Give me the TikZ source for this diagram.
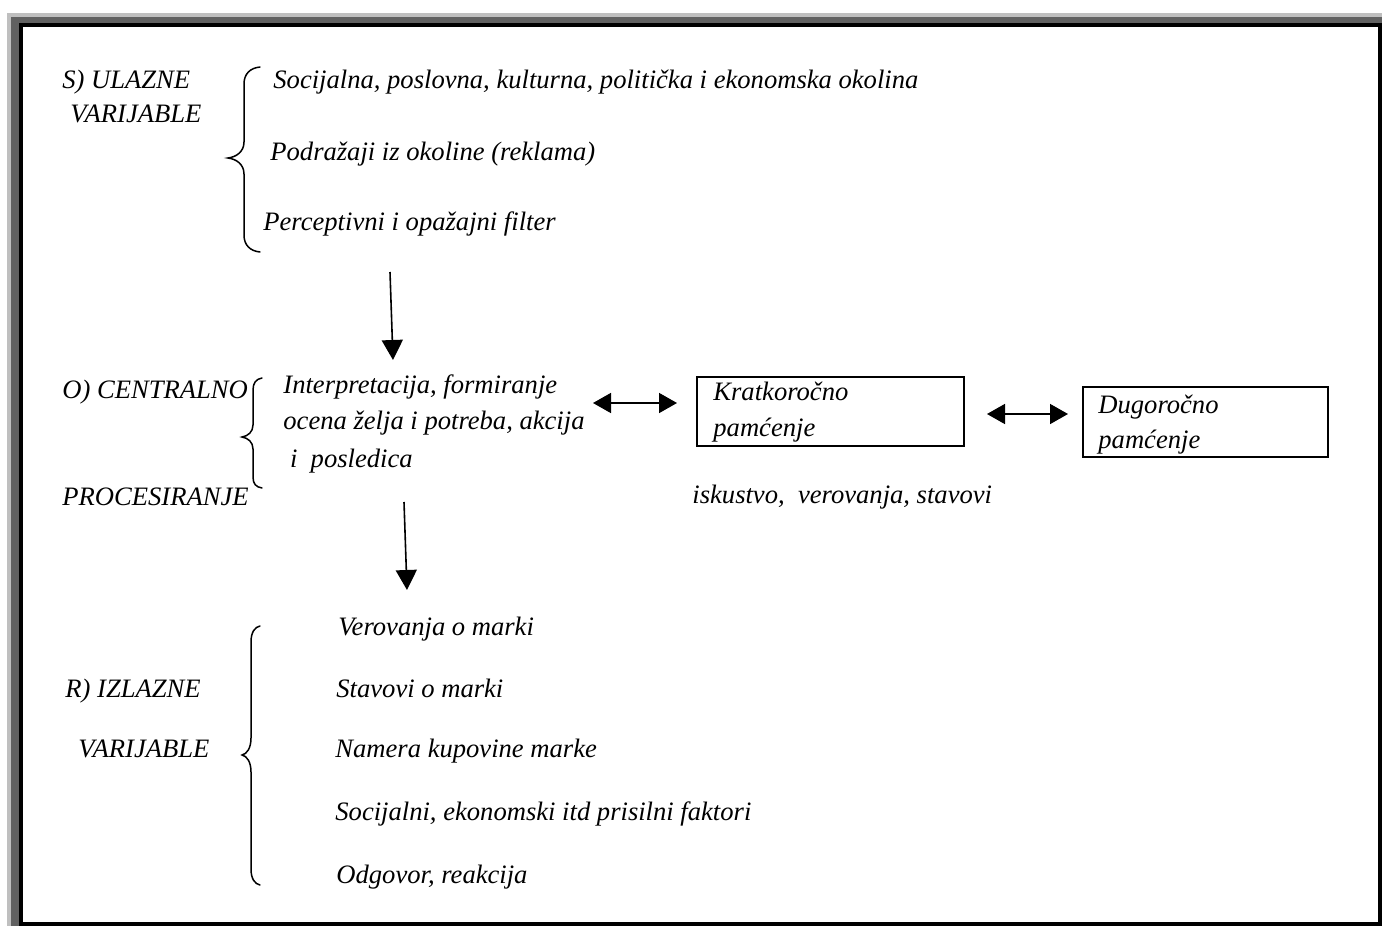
\documentclass[tikz,border=0pt]{standalone}
\usepackage{fontspec}
\setmainfont{Liberation Serif}
\usetikzlibrary{arrows.meta}

\begin{document}
\begin{tikzpicture}[x=0.5pt,y=-0.5pt,
    lbl/.style={anchor=base west,inner sep=0pt,font=\fontsize{13.3}{15}\selectfont\itshape},
    membox/.style={draw,line width=1pt,inner sep=0pt,minimum height=34.5pt},
    brace/.style={line width=0.75pt,line cap=round},
    darr/.style={line width=0.8pt,-{Triangle[length=10pt,width=10.5pt]}},
    harr/.style={line width=0.8pt,{Triangle[length=9pt,width=10pt]}-{Triangle[length=9pt,width=10pt]}}]
  \useasboundingbox (0,0) rectangle (1383,927);
  % frame with shadow on top and left
  \fill[black!25] (7,13) rectangle (1382,926);
  \fill[black!62] (11,17) rectangle (1382,926);
  \fill[black] (19,23) rectangle (1382,926);
  \fill[white] (23,27) rectangle (1378,922);

  % S) input variables
  \node[lbl] (sA) at (62,88) {S) ULAZNE};
  \node[lbl] (sB) at (70,122) {VARIJABLE};
  \draw[brace] (260,67) .. controls (250,68) and (244,74) .. (244,84) -- (244,142)
    .. controls (244,152) and (236,157) .. (228,158) .. controls (236,159) and (244,164) .. (244,174)
    -- (244,235) .. controls (244,245) and (250,251) .. (260,252);
  \node[lbl] (in1) at (273,88) {Socijalna, poslovna, kulturna, politička i ekonomska okolina};
  \node[lbl] (in2) at (270,160) {Podražaji iz okoline (reklama)};
  \node[lbl] (in3) at (263,230) {Perceptivni i opažajni filter};

  % O) central processing
  \node[lbl] (oA) at (62,398) {O) CENTRALNO};
  \node[lbl] (oB) at (62,505) {PROCESIRANJE};
  \draw[brace] (262,378) .. controls (256,379) and (253,383) .. (253,390) -- (253,425)
    .. controls (253,432) and (248,436) .. (242,437) .. controls (248,438) and (253,442) .. (253,449)
    -- (253,477) .. controls (253,484) and (256,487) .. (262,488);
  \node[lbl] (pr1) at (283,393) {Interpretacija, formiranje};
  \node[lbl] (pr2) at (283,429) {ocena želja i potreba, akcija};
  \node[lbl] (pr3) at (283,467) {\ i\ \ posledica};

  \node[membox,minimum width=133.5pt] (kratko) at (830.5,411.5) {};
  \node[lbl] (k1) at (713,400) {Kratkoročno};
  \node[lbl] (k2) at (713,436) {pamćenje};
  \node[membox,minimum width=122.5pt,minimum height=35pt] (dugo) at (1205.5,422) {};
  \node[lbl] (g1) at (1098,413) {Dugoročno};
  \node[lbl] (g2) at (1098,448) {pamćenje};
  \node[lbl] (isk) at (692,503) {iskustvo,\ \ verovanja, stavovi};

  % R) output variables
  \node[lbl] (rA) at (65,697) {R) IZLAZNE};
  \node[lbl] (rB) at (78,757) {VARIJABLE};
  \draw[brace] (260,626) .. controls (255,627) and (251,632) .. (251,642) -- (251,738)
    .. controls (251,748) and (247,754) .. (242,755) .. controls (247,756) and (251,762) .. (251,772)
    -- (251,869) .. controls (251,879) and (255,884) .. (260,885);
  \node[lbl] (out1) at (338,635) {Verovanja o marki};
  \node[lbl] (out2) at (336,697) {Stavovi o marki};
  \node[lbl] (out3) at (335,757) {Namera kupovine marke};
  \node[lbl] (out4) at (335,820) {Socijalni, ekonomski itd prisilni faktori};
  \node[lbl] (out5) at (336,883) {Odgovor, reakcija};

  % arrows
  \coordinate (a1s) at (390,272);
  \coordinate (a1e) at (393,360);
  \coordinate (a2s) at (404,502);
  \coordinate (a2e) at (407,590);
  \coordinate (h1s) at (593,403);
  \coordinate (h1e) at (677,403);
  \coordinate (h2s) at (987,414);
  \coordinate (h2e) at (1068,414);
  \draw[darr] (a1s) -- (a1e);
  \draw[darr] (a2s) -- (a2e);
  \draw[harr] (h1s) -- (h1e);
  \draw[harr] (h2s) -- (h2e);
\end{tikzpicture}
\end{document}
